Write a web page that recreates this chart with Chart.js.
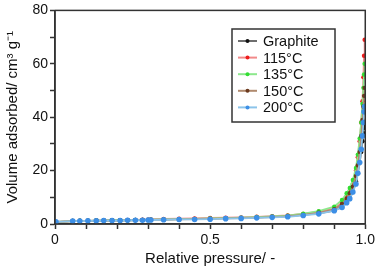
<!DOCTYPE html>
<html>
<head>
<meta charset="utf-8">
<script src="https://cdn.jsdelivr.net/npm/chart.js@4/dist/chart.umd.min.js"></script>
<style>
  html, body { margin: 0; padding: 0; background: #fff; }
  #wrap { width: 378px; height: 271px; }
</style>
</head>
<body>
<div id="wrap"><canvas id="iso" width="378" height="271"></canvas></div>
<script>
// N2 isotherms — relative pressure vs volume adsorbed
const pressure = [0.003, 0.057, 0.08, 0.106, 0.133, 0.157, 0.184, 0.21, 0.234, 0.259, 0.282, 0.3, 0.309,
  0.35, 0.4, 0.45, 0.5, 0.55, 0.6, 0.65, 0.7, 0.75, 0.8, 0.85, 0.9, 0.925, 0.94, 0.95, 0.96, 0.97,
  0.976, 0.982, 0.987, 0.991, 0.994, 0.996, 0.998]

const graphite = [0.7, 1.1, 1.2, 1.2, 1.3, 1.3, 1.4, 1.4, 1.4, 1.5, 1.5, 1.5, 1.6,
  1.7, 1.8, 1.9, 2.0, 2.2, 2.3, 2.5, 2.7, 3.0, 3.4, 4.0, 5.0, 6.5, 8.0, 9.5, 12, 16,
  19, 23, 27, 31, 34, 36, 37]
const t115 = [0.8, 1.1, 1.2, 1.2, 1.3, 1.3, 1.4, 1.4, 1.5, 1.5, 1.6, 1.6, 1.7,
  1.9, 2.0, 2.1, 2.3, 2.4, 2.5, 2.7, 2.9, 3.2, 3.8, 4.6, 5.8, 8.0, 10, 12, 15, 20,
  25, 31, 38, 46, 55, 63, 69]
const t135 = [0.8, 1.1, 1.2, 1.2, 1.3, 1.3, 1.4, 1.4, 1.4, 1.5, 1.5, 1.5, 1.6,
  1.7, 1.8, 1.9, 2.1, 2.2, 2.4, 2.6, 2.8, 3.1, 3.9, 4.8, 6.5, 9, 11.5, 13.5, 16.5, 21,
  26, 32, 38, 45, 51, 56, 60]
const t150 = [0.8, 1.1, 1.1, 1.2, 1.2, 1.3, 1.3, 1.3, 1.4, 1.4, 1.5, 1.5, 1.5,
  1.6, 1.7, 1.8, 1.9, 2.1, 2.2, 2.4, 2.6, 2.9, 3.4, 4.2, 5.5, 7.5, 9.5, 11.5, 14, 18,
  22, 27, 33, 39, 44, 48, 51]
const t200 = [0.8, 1.1, 1.1, 1.2, 1.2, 1.3, 1.3, 1.3, 1.4, 1.4, 1.4, 1.5, 1.5,
  1.6, 1.7, 1.7, 1.8, 2.0, 2.1, 2.3, 2.5, 2.7, 3.2, 3.8, 5.0, 6.2, 8, 9.5, 12, 15,
  19, 23, 28, 33, 38, 42, 44]

const seriesLabels = ['Graphite', '115°C', '135°C', '150°C', '200°C']
const seriesValues = [graphite, t115, t135, t150, t200]
const lineColors = ['#6e6e6e', '#f28a8a', '#8de88d', '#b08a6e', '#8cc4ea']
const markColors = ['#111111', '#ee1c1c', '#33dd33', '#6b3a1f', '#3d8fe6']
const markSizes = [2.2, 2.2, 2.2, 2.2, 2.8]

const FONT = 'Liberation Sans, Arial, Helvetica, sans-serif'
const INK = '#333333'

const datasets = seriesValues.map((vals, i) => ({
  label: seriesLabels[i],
  data: pressure.map((p, k) => ({ x: p, y: vals[k] })),
  borderColor: lineColors[i],
  backgroundColor: markColors[i],
  pointBackgroundColor: markColors[i],
  pointBorderWidth: 0,
  pointRadius: markSizes[i],
  borderWidth: 1.8,
  tension: 0,
  order: seriesValues.length - i
}))

// frame on top/right plus boxed legend
const frameAndLegend = {
  id: 'frameAndLegend',
  afterDraw (chart) {
    const { ctx, chartArea: a } = chart
    ctx.save()
    ctx.strokeStyle = INK
    ctx.lineWidth = 1.5
    ctx.strokeRect(a.left, a.top, a.right - a.left, a.bottom - a.top)

    const bx = 232, by = 29, bw = 103, bh = 93
    ctx.fillStyle = '#fff'
    ctx.fillRect(bx, by, bw, bh)
    ctx.strokeRect(bx, by, bw, bh)
    ctx.font = '14.5px ' + FONT
    ctx.textBaseline = 'middle'
    seriesLabels.forEach((lab, i) => {
      const y = by + 12 + i * 16.6
      ctx.strokeStyle = lineColors[i]
      ctx.lineWidth = 2
      ctx.beginPath()
      ctx.moveTo(238, y)
      ctx.lineTo(257, y)
      ctx.stroke()
      ctx.fillStyle = markColors[i]
      ctx.beginPath()
      ctx.arc(247.5, y, 2, 0, Math.PI * 2)
      ctx.fill()
      ctx.fillStyle = '#111'
      ctx.fillText(lab, 263, y + 1)
    })
    ctx.restore()
  }
}

new Chart(document.getElementById('iso'), {
  type: 'line',
  data: { datasets },
  options: {
    responsive: false,
    animation: false,
    layout: { padding: { top: 7, right: 10, left: 0, bottom: 0 } },
    plugins: { legend: { display: false }, tooltip: { enabled: false } },
    scales: {
      x: {
        type: 'linear',
        min: 0,
        max: 1,
        afterFit: s => { s.height = 47 },
        border: { display: true, color: INK, width: 1.5 },
        grid: { drawOnChartArea: false, drawTicks: true, tickLength: 5, tickColor: INK, tickWidth: 1.5 },
        ticks: {
          stepSize: 0.1,
          autoSkip: false,
          maxRotation: 0,
          padding: 3,
          color: '#111',
          font: { family: FONT, size: 14 },
          callback: v => {
            const r = Math.round(v * 10)
            if (r === 0) return '0'
            if (r === 5) return '0.5'
            if (r === 10) return '1.0'
            return ''
          }
        },
        title: {
          display: true,
          text: 'Relative pressure/ -',
          color: '#111',
          font: { family: FONT, size: 15 },
          padding: { top: 6, bottom: 3 }
        }
      },
      y: {
        min: 0,
        max: 80,
        afterFit: s => { s.width = 55 },
        border: { display: true, color: INK, width: 1.5 },
        grid: { drawOnChartArea: false, drawTicks: true, tickLength: 5, tickColor: INK, tickWidth: 1.5 },
        ticks: {
          stepSize: 10,
          autoSkip: false,
          padding: 2,
          color: '#111',
          font: { family: FONT, size: 14 },
          callback: v => (v % 20 === 0 ? String(v) : '')
        },
        title: {
          display: true,
          text: 'Volume adsorbed/ cm³ g⁻¹',
          color: '#111',
          font: { family: FONT, size: 15 },
          padding: { top: 4, bottom: 0 }
        }
      }
    }
  },
  plugins: [frameAndLegend]
})
</script>
</body>
</html>
